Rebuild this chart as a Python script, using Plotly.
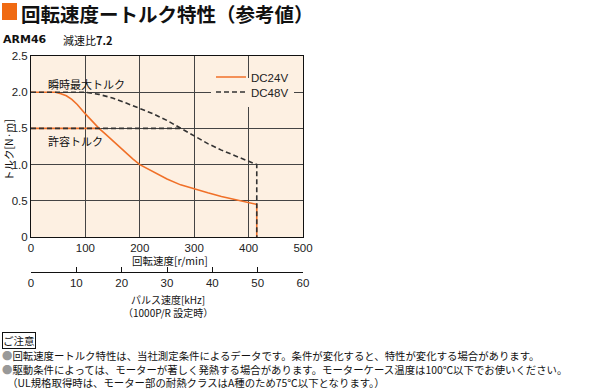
import plotly.graph_objects as go

W, H = 602, 390

# ---- data ----
speed_24 = [0, 45, 55, 65, 75, 85, 100, 112, 125, 137, 150, 162, 175, 187, 200, 225, 250, 275, 300, 325, 350, 375, 400, 415, 415]
torque_24 = [2.0, 2.0, 1.98, 1.95, 1.90, 1.83, 1.70, 1.60, 1.50, 1.42, 1.33, 1.24, 1.16, 1.08, 1.00, 0.90, 0.80, 0.72, 0.66, 0.61, 0.56, 0.52, 0.48, 0.45, 0.0]
perm_speed_24 = [0, 125]
perm_torque_24 = [1.5, 1.5]

speed_48 = [0, 100, 125, 150, 175, 200, 225, 250, 275, 300, 325, 350, 375, 400, 410, 415, 415]
torque_48 = [2.0, 2.0, 1.97, 1.92, 1.85, 1.78, 1.70, 1.61, 1.50, 1.39, 1.29, 1.20, 1.12, 1.05, 1.01, 1.0, 0.0]
perm_speed_48 = [0, 275]
perm_torque_48 = [1.5, 1.5]

x_ticks = [0, 100, 200, 300, 400, 500]
y_ticks = [0, 0.5, 1.0, 1.5, 2.0, 2.5]
y_tick_labels = ["0", "0.5", "1.0", "1.5", "2.0", "2.5"]
pulse_ticks = [0, 10, 20, 30, 40, 50, 60]

ORANGE = "#f07028"
DARK = "#333333"
BG = "#fdf0e2"
NUM_FONT = "Liberation Sans, Arial, sans-serif"
JP_FONT = "Noto Sans CJK JP, sans-serif"

def px(x):
    return x / W

def py(y):
    return 1 - y / H

fig = go.Figure()
fig.add_trace(go.Scatter(x=speed_24, y=torque_24, mode="lines", name="DC24V", legend="legend2",
                         line=dict(color=ORANGE, width=1.6), hoverinfo="skip"))
fig.add_trace(go.Scatter(x=perm_speed_24, y=perm_torque_24, mode="lines", showlegend=False,
                         line=dict(color=ORANGE, width=1.6), hoverinfo="skip"))
fig.add_trace(go.Scatter(x=speed_48, y=torque_48, mode="lines", name="DC48V", legend="legend",
                         line=dict(color=DARK, width=1.6, dash="5px,3px"), hoverinfo="skip"))
fig.add_trace(go.Scatter(x=perm_speed_48, y=perm_torque_48, mode="lines", showlegend=False,
                         line=dict(color=DARK, width=1.6, dash="5px,3px"), hoverinfo="skip"))
# carrier for pulse-speed axis
fig.add_trace(go.Scatter(x=[0, 60], y=[None, None], mode="lines", xaxis="x2", showlegend=False,
                         hoverinfo="skip"))

leg_common = dict(xanchor="left", borderwidth=0, itemwidth=30,
                  font=dict(family=NUM_FONT, size=11.5, color="#222"))

fig.update_layout(
    width=W, height=H,
    margin=dict(l=0, r=0, t=0, b=0, autoexpand=False),
    paper_bgcolor="white",
    plot_bgcolor=BG,
    showlegend=True,
    legend=dict(x=px(211), y=py(92), yanchor="middle", bgcolor=BG, **leg_common),
    legend2=dict(x=px(211), y=py(77), yanchor="middle", bgcolor="rgba(0,0,0,0)", **leg_common),
    xaxis=dict(domain=[px(31), px(303)], range=[0, 500], tickvals=x_ticks, automargin=False,
               showgrid=True, gridcolor="#444", gridwidth=1, zeroline=False,
               showline=True, linecolor="#111", linewidth=1, mirror=True,
               ticks="", tickfont=dict(family=NUM_FONT, size=11.5, color="#222")),
    yaxis=dict(domain=[py(237), py(56)], range=[0, 2.5], tickvals=y_ticks, ticktext=y_tick_labels,
               automargin=False,
               showgrid=True, gridcolor="#444", gridwidth=1, zeroline=False,
               showline=True, linecolor="#111", linewidth=1, mirror=True,
               ticks="", tickfont=dict(family=NUM_FONT, size=11.5, color="#222")),
    xaxis2=dict(domain=[px(31), px(303)], range=[0, 60], tickvals=pulse_ticks, automargin=False,
                anchor="free", position=py(272), overlaying="x", side="bottom",
                showgrid=False, zeroline=False, showline=True, linecolor="#111", linewidth=1,
                ticks="inside", ticklen=5, tickcolor="#111",
                tickfont=dict(family=NUM_FONT, size=11.5, color="#222")),
)

shapes = [
    dict(type="rect", xref="paper", yref="paper", x0=px(2), x1=px(17), y0=py(20), y1=py(3),
         fillcolor="#f06a12", line=dict(width=0)),
]
fig.update_layout(shapes=shapes)

def ann(text, x, y, size=11, xanchor="left", bold=False, family=JP_FONT, **kw):
    fig.add_annotation(text=text, x=px(x), y=py(y), xref="paper", yref="paper",
                       xanchor=xanchor, yanchor="middle", showarrow=False,
                       font=dict(family=family, size=size, color="#111",
                                 weight="bold" if bold else "normal"), **kw)

ann("回転速度ートルク特性（参考値）", 19, 13.5, size=19.5, bold=True)
ann("ARM46", 1, 40, size=11, bold=True, family="DejaVu Sans, sans-serif")
ann("減速比<b>7.2</b>", 61, 40, size=11)

ann("瞬時最大トルク", 46, 84, size=11)
ann("許容トルク", 46, 141, size=11)

fig.add_annotation(text="トルク[N·m]", x=px(8), y=py(150), xref="paper", yref="paper",
                   showarrow=False, textangle=-90, xanchor="center", yanchor="middle",
                   font=dict(family=JP_FONT, size=10.5, color="#111"))
ann("回転速度[r/min]", 170, 260, xanchor="center", size=10.5)
ann("パルス速度[kHz]<br>（1000P/R 設定時）", 168, 305.5, xanchor="center", size=10, align="center",
    borderpad=0)

fig.add_annotation(text="ご注意", x=px(2), y=py(340.5), xref="paper", yref="paper",
                   xanchor="left", yanchor="middle", showarrow=False,
                   bordercolor="#111", borderwidth=1, borderpad=0, bgcolor="white",
                   font=dict(family=JP_FONT, size=10.5, color="#111"))
FS = 10.4
footer_lines = [
    "<span style='color:#999'>●</span>回転速度ートルク特性は、当社測定条件によるデータです。条件が変化すると、特性が変化する場合があります。",
    "<span style='color:#999'>●</span>駆動条件によっては、モーターが著しく発熱する場合があります。モーターケース温度は100℃以下でお使いください。",
    "\u2002（UL規格取得時は、モーター部の耐熱クラスはA種のため75℃以下となります。）",
]
ann("<br>".join(footer_lines), 1, 368.5, size=FS, align="left", borderpad=0)

fig.write_html("out.html", config={"displayModeBar": False},
               post_script="document.body.style.margin='0';document.body.style.overflow='hidden';")
